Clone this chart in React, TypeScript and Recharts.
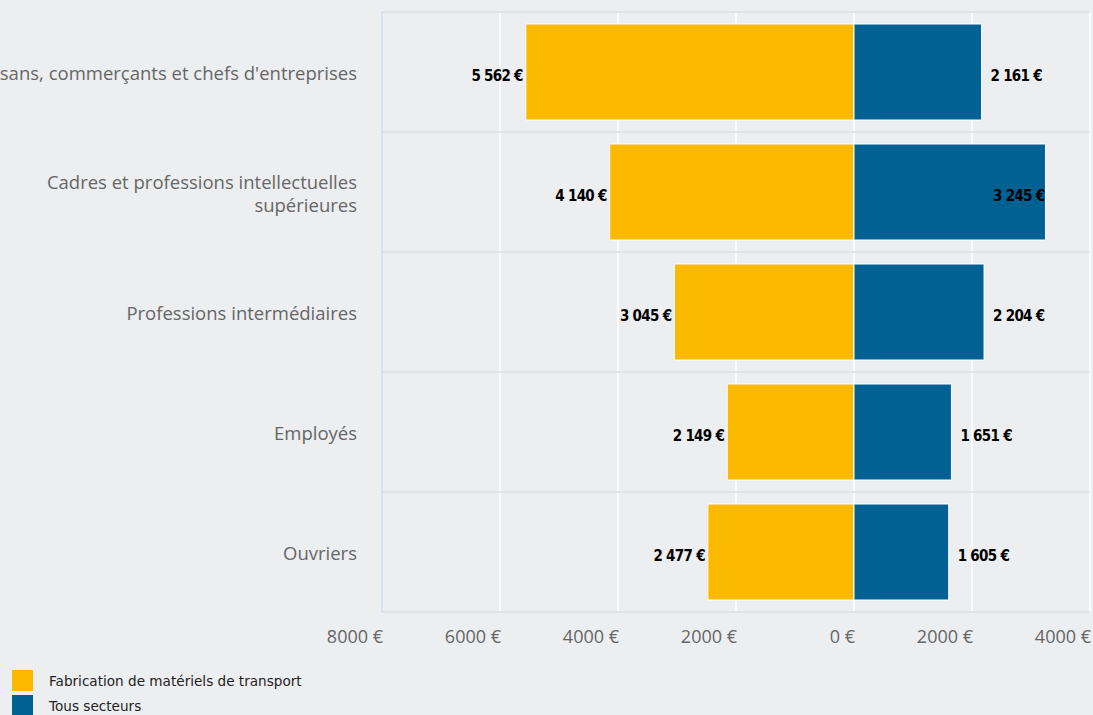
import { BarChart, Bar, XAxis, YAxis, CartesianGrid, LabelList, Legend } from "recharts"

const categories = [
  "Artisans, commerçants et chefs d'entreprises",
  "Cadres et professions intellectuelles supérieures",
  "Professions intermédiaires",
  "Employés",
  "Ouvriers",
]
const categoryLines = [
  ["Artisans, commerçants et chefs d'entreprises"],
  ["Cadres et professions intellectuelles", "supérieures"],
  ["Professions intermédiaires"],
  ["Employés"],
  ["Ouvriers"],
]
const fabrication = [5562, 4140, 3045, 2149, 2477]
const tousSecteurs = [2161, 3245, 2204, 1651, 1605]
const xTicks = [-8000, -6000, -4000, -2000, 0, 2000, 4000]
const seriesNames = ["Fabrication de matériels de transport", "Tous secteurs"]
const seriesColors = ["#fbb900", "#006192"]

const WIDTH = 1093
const HEIGHT = 715
const MARGIN = { top: 12, right: 3, bottom: 0, left: 0 }
const PLOT_RIGHT = WIDTH - MARGIN.right

const data = categories.map((category, i) => ({
  category,
  fab: -fabrication[i],
  tous: tousSecteurs[i],
}))

// data labels use a thousands separator, axis ticks don't
const formatEuro = (v: number) =>
  Math.abs(v).toString().replace(/\B(?=(\d{3})+(?!\d))/g, " ") + " €"
const formatTick = (v: number) => Math.abs(v) + " €"

const labelStyle = {
  fontFamily: "'DejaVu Sans Condensed', 'DejaVu Sans', sans-serif",
  fontStretch: "condensed",
  fontWeight: 700,
  fontSize: 15,
  letterSpacing: -0.7,
  fill: "#000",
}

function FabLabel(props: any) {
  const { x, y, width, height, value } = props
  const left = Math.min(x, x + width)
  return (
    <text x={left - 3} y={y + height / 2 + 9} textAnchor="end" style={labelStyle}>
      {formatEuro(value)}
    </text>
  )
}

function TousLabel(props: any) {
  const { x, y, width, height, value } = props
  const right = Math.max(x, x + width)
  const inside = right + 62 > PLOT_RIGHT
  return (
    <text
      x={inside ? right - 1 : right + 9}
      y={y + height / 2 + 9}
      textAnchor={inside ? "end" : "start"}
      style={labelStyle}
    >
      {formatEuro(value)}
    </text>
  )
}

function CategoryTick({ x, y, payload }: any) {
  const lines = categoryLines[categories.indexOf(payload.value)] || [payload.value]
  const base = y + 8 - ((lines.length - 1) * 23) / 2
  return (
    <text
      textAnchor="end"
      fill="#666"
      style={{ fontFamily: "'Open Sans', sans-serif", fontSize: 18.5 }}
    >
      {lines.map((line, i) => (
        <tspan key={i} x={x - 25} y={base + i * 23}>
          {line}
        </tspan>
      ))}
    </text>
  )
}

function ValueTick({ x, y, payload }: any) {
  return (
    <text
      x={x + 1}
      y={y + 31}
      textAnchor="end"
      fill="#666"
      style={{ fontFamily: "'Open Sans', sans-serif", fontSize: 18 }}
    >
      {formatTick(payload.value)}
    </text>
  )
}

function LegendContent() {
  return (
    <div style={{ fontFamily: "'DejaVu Sans', sans-serif", fontSize: 13.6, color: "#222" }}>
      {seriesNames.map((name, i) => (
        <div key={name} style={{ display: "flex", alignItems: "center", height: 25 }}>
          <span style={{ width: 21, height: 21, background: seriesColors[i], display: "inline-block" }} />
          <span style={{ marginLeft: 16 }}>{name}</span>
        </div>
      ))}
    </div>
  )
}

export default function App() {
  return (
    <div style={{ position: "absolute", left: 0, top: 0, width: WIDTH, height: HEIGHT, background: "#edeef0", overflow: "hidden" }}>
      <BarChart
        width={WIDTH}
        height={HEIGHT}
        data={data}
        layout="vertical"
        stackOffset="sign"
        barCategoryGap="10%"
        margin={MARGIN}
      >
        <CartesianGrid horizontal={false} stroke="#ffffff" strokeWidth={1.5} />
        <CartesianGrid
          vertical={false}
          stroke="#e2e3e5"
          strokeWidth={2}
          horizontalCoordinatesGenerator={({ offset }: any) =>
            Array.from({ length: categories.length + 1 }, (_, i) => offset.top + (i * offset.height) / categories.length)
          }
        />
        <XAxis
          type="number"
          domain={[-8000, 4000]}
          ticks={xTicks}
          interval={0}
          height={103}
          axisLine={false}
          tickLine={false}
          tickSize={0}
          tickMargin={0}
          tick={<ValueTick />}
        />
        <YAxis
          type="category"
          dataKey="category"
          width={382}
          interval={0}
          axisLine={{ stroke: "#ccd6eb", strokeWidth: 1.5 }}
          tickLine={false}
          tickSize={0}
          tickMargin={0}
          tick={<CategoryTick />}
        />
        <Bar dataKey="fab" stackId="a" fill={seriesColors[0]} stroke="#fff" strokeWidth={1} isAnimationActive={false}>
          <LabelList dataKey="fab" content={<FabLabel />} />
        </Bar>
        <Bar dataKey="tous" stackId="a" fill={seriesColors[1]} stroke="#fff" strokeWidth={1} isAnimationActive={false}>
          <LabelList dataKey="tous" content={<TousLabel />} />
        </Bar>
        <Legend
          layout="vertical"
          align="center"
          verticalAlign="middle"
          content={<LegendContent />}
          wrapperStyle={{ left: 12, top: 668, width: "auto", height: "auto" }}
        />
      </BarChart>
    </div>
  )
}
